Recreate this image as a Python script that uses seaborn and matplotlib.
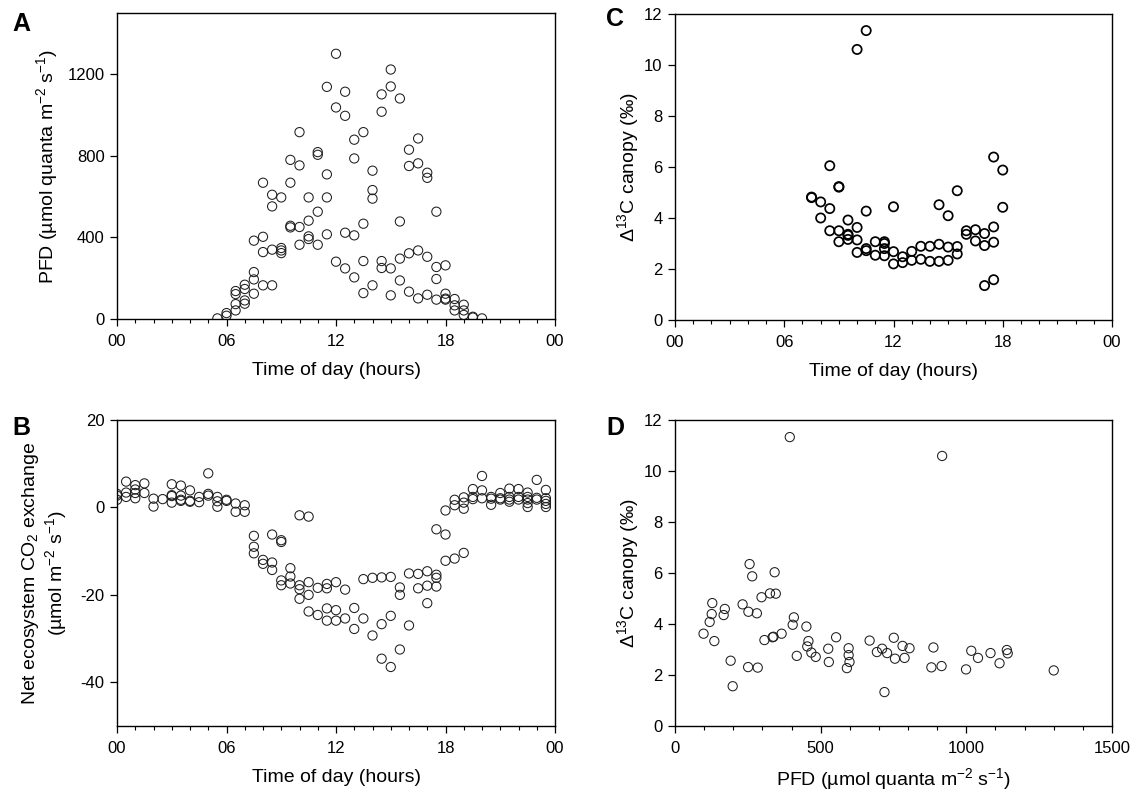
import numpy as np
import pandas as pd
import matplotlib
matplotlib.use("Agg")
import matplotlib.pyplot as plt
from matplotlib.ticker import FixedLocator, MultipleLocator, FixedFormatter
import seaborn as sns

# ---------------- data ----------------
# A: photon flux density through the day
time_a = ([5.5] + [6.0] * 2 + [6.5] * 4 + [7.0] * 4 + [7.5] * 4 + [8.0] * 4 + [8.5] * 4
          + [9.0] * 4 + [9.5] * 4 + [10.0] * 4 + [10.5] * 4 + [11.0] * 4 + [11.5] * 4
          + [12.0] * 3 + [12.5] * 4 + [13.0] * 4 + [13.5] * 4 + [14.0] * 4 + [14.5] * 4
          + [15.0] * 4 + [15.5] * 4 + [16.0] * 4 + [16.5] * 4 + [17.0] * 4 + [17.5] * 4
          + [18.0] * 4 + [18.5] * 3 + [19.0] * 3 + [19.5] * 2 + [20.0])
pfd_a = [3,
         16, 29,
         42, 73, 122, 137,
         75, 91, 147, 168,
         124, 194, 230, 384,
         165, 328, 403, 668,
         165, 340, 552, 609,
         323, 336, 348, 596,
         449, 457, 668, 780,
         364, 451, 753, 916,
         392, 405, 482, 596,
         364, 526, 805, 818,
         415, 596, 709, 1138,
         281, 1037, 1300,
         248, 423, 996, 1114,
         204, 410, 787, 879,
         127, 284, 467, 916,
         165, 590, 632, 727,
         250, 284, 1016, 1101,
         116, 248, 1140, 1223,
         189, 296, 478, 1081,
         134, 322, 750, 830,
         101, 336, 763, 885,
         119, 305, 692, 717,
         95, 196, 255, 526,
         95, 100, 124, 263,
         42, 67, 98,
         20, 42, 70,
         7, 11,
         3]

# B: net ecosystem CO2 exchange, grouped by half hour
nee_by_time = {
    0.0: [3.1, 2.7, 1.75], 0.5: [5.9, 3.4, 2.4], 1.0: [5.1, 4.1, 3.3, 2.1],
    1.5: [5.5, 3.3], 2.0: [2.0, 0.2], 2.5: [1.9], 3.0: [5.3, 2.8, 2.6, 1.1],
    3.5: [5.0, 2.7, 1.75, 1.5], 4.0: [3.9, 1.5, 1.3], 4.5: [2.4, 1.2],
    5.0: [7.8, 3.1, 2.7], 5.5: [2.4, 1.4, 0.15], 6.0: [1.75, 1.5],
    6.5: [0.9, -1.0], 7.0: [0.5, -1.0], 7.5: [-6.5, -9.0, -10.5],
    8.0: [-12.0, -12.9], 8.5: [-6.2, -12.6, -14.3], 9.0: [-7.5, -7.9, -16.7, -17.8],
    9.5: [-13.9, -15.8, -17.4], 10.0: [-1.8, -17.8, -18.7, -20.9],
    10.5: [-2.1, -17.1, -20.0, -23.8], 11.0: [-18.4, -24.6],
    11.5: [-17.5, -18.5, -23.1, -25.9], 12.0: [-17.1, -23.5, -25.9],
    12.5: [-18.8, -25.4], 13.0: [-23.0, -27.8], 13.5: [-16.4, -25.4],
    14.0: [-16.1, -29.3], 14.5: [-16.0, -26.7, -34.6], 15.0: [-15.9, -24.8, -36.5],
    15.5: [-18.3, -20.0, -32.5], 16.0: [-15.1, -27.0], 16.5: [-15.2, -18.5],
    17.0: [-14.6, -17.9, -21.9], 17.5: [-5.0, -15.4, -16.1, -18.1],
    18.0: [-0.7, -6.2, -12.2], 18.5: [1.75, 0.5, -11.7], 19.0: [2.3, 1.1, -0.3, -10.4],
    19.5: [4.2, 2.4, 1.9], 20.0: [7.2, 3.9, 2.1], 20.5: [2.4, 2.0, 0.6],
    21.0: [3.3, 2.1, 1.8], 21.5: [4.3, 2.4, 1.8, 1.3], 22.0: [4.2, 2.4, 1.8],
    22.5: [3.4, 2.4, 1.8, 1.0, 0.1], 23.0: [6.3, 2.2, 1.8],
    23.5: [4.0, 2.1, 1.5, 0.8, 0.1],
}

# C: canopy discrimination through the day
time_c = ([7.5] * 2 + [8.0] * 2 + [8.5] * 3 + [9.0] * 4 + [9.5] * 4 + [10.0] * 4
          + [10.5] * 4 + [11.0] * 2 + [11.5] * 4 + [12.0] * 3 + [12.5] * 2 + [13.0] * 2
          + [13.5] * 2 + [14.0] * 2 + [14.5] * 3 + [15.0] * 3 + [15.5] * 3 + [16.0] * 2
          + [16.5] * 2 + [17.0] * 3 + [17.5] * 4 + [18.0] * 2)
d13c_c = [4.82, 4.80,
          4.63, 4.0,
          6.05, 4.37, 3.5,
          5.23, 5.21, 3.5, 3.07,
          3.92, 3.36, 3.32, 3.16,
          10.61, 3.63, 3.14, 2.65,
          11.35, 4.27, 2.80, 2.72,
          3.07, 2.54,
          3.07, 3.0, 2.80, 2.52,
          4.44, 2.68, 2.20,
          2.48, 2.25,
          2.69, 2.34,
          2.89, 2.38,
          2.89, 2.30,
          4.52, 2.97, 2.30,
          4.09, 2.86, 2.34,
          5.07, 2.88, 2.59,
          3.5, 3.36,
          3.54, 3.10,
          3.39, 2.92, 1.35,
          6.39, 3.65, 3.05, 1.58,
          5.88, 4.42]

# D: canopy discrimination against photon flux density
pfd_d = [98, 119, 126, 128, 135, 167, 171, 191, 198, 232, 251, 252, 256, 265, 281,
         284, 297, 307, 326, 335, 338, 342, 346, 366, 394, 404, 408, 418, 451, 454,
         458, 468, 483, 526, 528, 553, 590, 596, 596, 599, 668, 693, 711, 719, 728,
         751, 755, 781, 788, 805, 880, 887, 915, 917, 999, 1017, 1040, 1083, 1114,
         1139, 1142, 1300]
d13c_d = [3.62, 4.08, 4.39, 4.82, 3.33, 4.35, 4.59, 2.56, 1.56, 4.77, 2.31, 4.48,
          6.35, 5.87, 4.42, 2.29, 5.05, 3.37, 5.20, 3.48, 3.50, 6.03, 5.19, 3.62,
          11.33, 3.97, 4.26, 2.75, 3.90, 3.12, 3.33, 2.88, 2.71, 3.03, 2.51, 3.48,
          2.27, 3.05, 2.78, 2.51, 3.35, 2.90, 3.03, 1.33, 2.86, 3.46, 2.64, 3.14,
          2.67, 3.05, 2.30, 3.08, 2.35, 10.59, 2.22, 2.95, 2.67, 2.86, 2.46, 2.98,
          2.85, 2.18]

time_ticks = [0, 6, 12, 18, 24]
time_tick_labels = ["00", "06", "12", "18", "00"]

df_a = pd.DataFrame({"time": time_a, "pfd": pfd_a})
df_b = pd.DataFrame([(t, v) for t, vals in nee_by_time.items() for v in vals],
                    columns=["time", "nee"])
df_c = pd.DataFrame({"time": time_c, "d13c": d13c_c})
df_d = pd.DataFrame({"pfd": pfd_d, "d13c": d13c_d})

# ---------------- style ----------------
sns.set_style("ticks")
plt.rcParams["font.family"] = ["Liberation Sans", "DejaVu Sans"]
plt.rcParams["mathtext.fontset"] = "custom"
plt.rcParams["mathtext.rm"] = "Liberation Sans"
plt.rcParams["mathtext.it"] = "Liberation Sans:italic"
plt.rcParams["mathtext.bf"] = "Liberation Sans:bold"
plt.rcParams["axes.unicode_minus"] = False
plt.rcParams["text.color"] = "black"
plt.rcParams["axes.labelcolor"] = "black"
plt.rcParams["xtick.color"] = "black"
plt.rcParams["ytick.color"] = "black"

W, H = 1133, 791
fig = plt.figure(figsize=(W / 100, H / 100), dpi=100)


def px_axes(left, top, right, bottom):
    return fig.add_axes([left / W, 1 - bottom / H, (right - left) / W, (bottom - top) / H])


ax_a = px_axes(117, 13, 555, 319)
ax_b = px_axes(117, 420, 555, 726)
ax_c = px_axes(675, 14, 1112, 320)
ax_d = px_axes(675, 420, 1112, 726)

thin = dict(s=44, marker="o", facecolors="none", edgecolors="#1e1e1e", linewidths=0.75)
bold = dict(s=44, marker="o", facecolors="none", edgecolors="black", linewidths=1.25)

sns.scatterplot(data=df_a, x="time", y="pfd", ax=ax_a, legend=False, **thin)
sns.scatterplot(data=df_b, x="time", y="nee", ax=ax_b, legend=False, **thin)
sns.scatterplot(data=df_c, x="time", y="d13c", ax=ax_c, legend=False, **bold)
sns.scatterplot(data=df_d, x="pfd", y="d13c", ax=ax_d, legend=False, **thin)

TICK_FS = 12
LABEL_FS = 14

for ax in (ax_a, ax_b, ax_c, ax_d):
    for sp in ax.spines.values():
        sp.set_visible(True)
        sp.set_color("black")
        sp.set_linewidth(1.0)
    ax.tick_params(which="major", direction="out", length=5, width=0.9,
                   labelsize=TICK_FS, colors="black", pad=4)
    ax.tick_params(axis="x", which="major", pad=6)
    ax.tick_params(which="minor", direction="out", length=3, width=0.8, colors="black")
    ax.tick_params(axis="y", which="minor", left=False)

for ax in (ax_a, ax_b, ax_c):
    ax.set_xlim(0, 24)
    ax.xaxis.set_major_locator(FixedLocator(time_ticks))
    ax.xaxis.set_major_formatter(FixedFormatter(time_tick_labels))
    ax.xaxis.set_minor_locator(MultipleLocator(1))
    ax.set_xlabel("Time of day (hours)", fontsize=LABEL_FS, labelpad=9)

ax_a.set_ylim(0, 1500)
ax_a.set_yticks([0, 400, 800, 1200])
ax_a.set_ylabel("PFD (µmol quanta m$^{-2}$ s$^{-1}$)", fontsize=LABEL_FS, labelpad=5)

ax_b.set_ylim(-50, 20)
ax_b.set_yticks([-40, -20, 0, 20])
ax_b.set_ylabel("Net ecosystem CO$_2$ exchange\n(µmol m$^{-2}$ s$^{-1}$)",
                fontsize=LABEL_FS, labelpad=8, linespacing=1.1)

d13c_label = "Δ$^{13}$C canopy (‰)"
for ax in (ax_c, ax_d):
    ax.set_ylim(0, 12)
    ax.set_yticks(np.arange(0, 13, 2))
    ax.set_ylabel(d13c_label, fontsize=LABEL_FS, labelpad=2)

ax_d.set_xlim(0, 1500)
ax_d.set_xticks([0, 500, 1000, 1500])
ax_d.xaxis.set_minor_locator(MultipleLocator(100))
ax_d.set_xlabel("PFD (µmol quanta m$^{-2}$ s$^{-1}$)", fontsize=LABEL_FS, labelpad=7)

# panel letters
for letter, (x, y) in {"A": (12, 12), "B": (12, 416), "C": (606, 7), "D": (606, 416)}.items():
    fig.text(x / W, 1 - y / H, letter, fontsize=18, fontweight="bold",
             ha="left", va="top")

fig.savefig("out.png", dpi=100)
